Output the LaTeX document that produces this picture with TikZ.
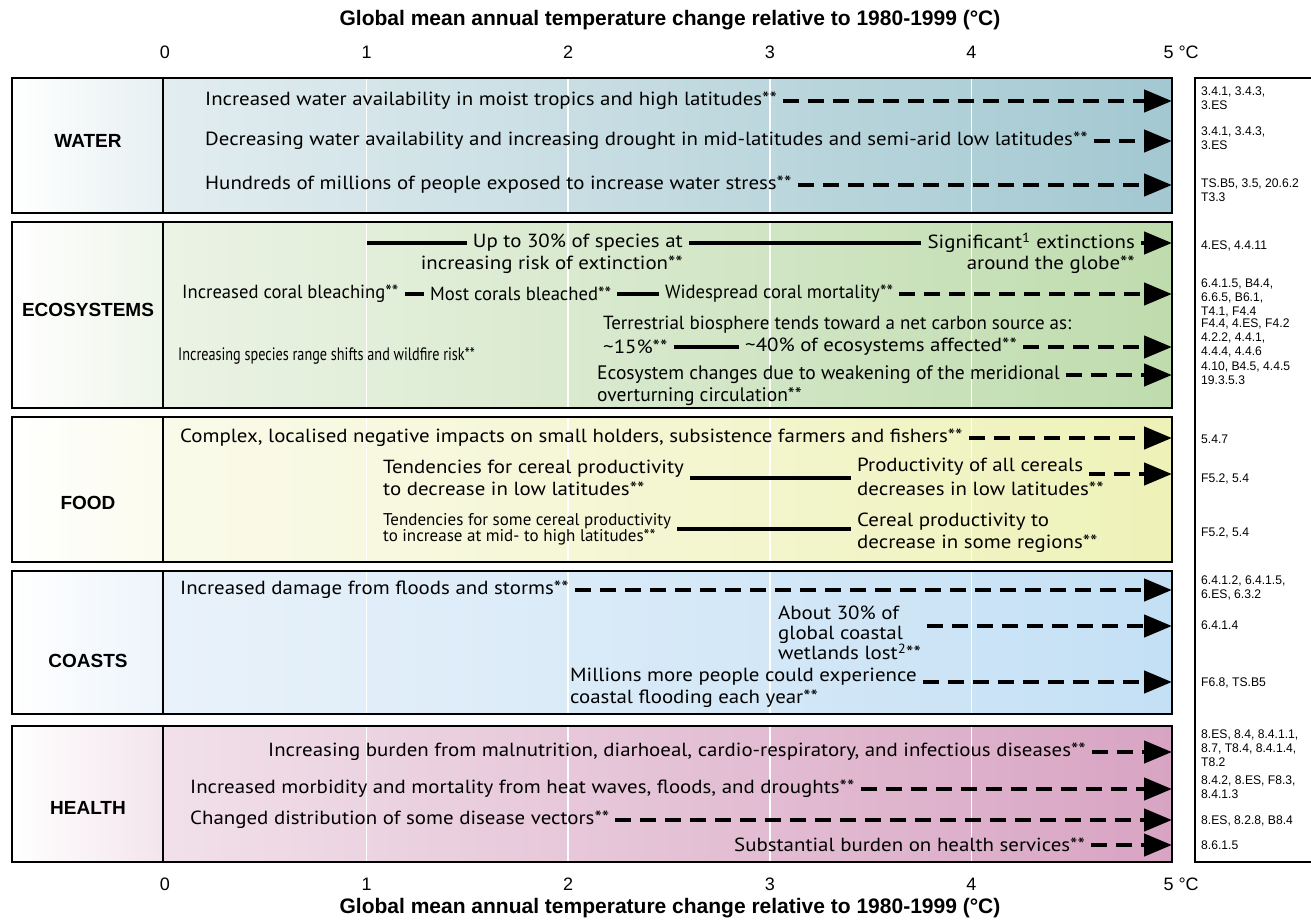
\documentclass[tikz,border=0pt]{standalone}
\usepackage{fontspec}
\setmainfont{Liberation Sans}
\newfontfamily\rowfont[FakeStretch=1.1]{PT Sans}
\newfontfamily\plainfont{PT Sans}
\newfontfamily\slimfont[FakeStretch=0.98]{PT Sans}
\newfontfamily\narrowfont[FakeStretch=0.79]{PT Sans}
\newfontfamily\reffont[FakeStretch=0.97]{Liberation Sans}
\usetikzlibrary{arrows.meta}
\definecolor{waterL}{HTML}{E2EDF0}
\definecolor{waterR}{HTML}{A3C8D1}
\definecolor{ecoL}{HTML}{EBF3E5}
\definecolor{ecoR}{HTML}{BFDCAE}
\definecolor{foodL}{HTML}{FAFAEA}
\definecolor{foodR}{HTML}{EEF2B8}
\definecolor{coastL}{HTML}{E9F2FA}
\definecolor{coastR}{HTML}{C4E0F5}
\definecolor{healthL}{HTML}{F1E0E9}
\definecolor{healthR}{HTML}{D8A4C3}
\begin{document}
\begin{tikzpicture}[x=1pt,y=-1pt,
  item/.style={font=\rowfont\fontsize{19}{22}\selectfont, inner xsep=6pt, inner ysep=0pt, anchor=west, align=left},
  slim/.style={item, font=\slimfont\fontsize{19}{22}\selectfont},
  big/.style={item, font=\plainfont\fontsize{19.5}{22}\selectfont},
  trend/.style={line width=4.5pt, dash pattern=on 16pt off 9pt, -{Triangle[length=28pt,width=22pt]}},
  link/.style={line width=4pt},
  cat/.style={font=\bfseries\fontsize{19}{22}\selectfont},
  refs/.style={font=\reffont\fontsize{12.5}{14}\selectfont, anchor=north west, align=left, inner sep=0pt},
  axis/.style={font=\fontsize{18}{20}\selectfont},
  heading/.style={font=\bfseries\fontsize{21}{24}\selectfont}]
\useasboundingbox (0,0) rectangle (1311,923);
\fill[white] (0,0) rectangle (1311,923);
% Panels
\foreach \ya/\yb/\pname/\ly/\cl/\cr in {78/213/WATER/141/waterL/waterR,
    222/408/ECOSYSTEMS/310/ecoL/ecoR, 417/562/FOOD/503/foodL/foodR,
    571/714/COASTS/661/coastL/coastR, 726/862/HEALTH/808/healthL/healthR} {
  \shade[left color=white, right color=\cl!85] (12,\ya) rectangle (163,\yb);
  \shade[left color=\cl, right color=\cr] (163,\ya) rectangle (1172,\yb);
  \foreach \t in {1,...,4}
    \draw[white, line width=1.5pt] ({165+201.6*\t},\ya) -- ({165+201.6*\t},\yb);
  \draw[line width=2.5pt] (12,\ya) rectangle (1172,\yb);
  \draw[line width=2pt] (163,\ya) -- (163,\yb);
  \node[cat] (cat\pname) at (88,\ly) {\pname};
}
% Reference column
\draw[line width=2.5pt] (1330,78) -- (1195,78) -- (1195,862) -- (1330,862);
% Axes
\node[heading] (toptitle) at (670,20) {Global mean annual temperature change relative to 1980-1999 (°C)};
\node[heading] (bottitle) at (670,908) {Global mean annual temperature change relative to 1980-1999 (°C)};
\foreach \t in {0,...,4} {
  \node[axis] (top\t) at ({165+201.6*\t},52) {\t};
  \node[axis] (bot\t) at ({165+201.6*\t},884) {\t};
}
\node[axis, anchor=west] (top5) at (1160,52) {5 °C};
\node[axis, anchor=west] (bot5) at (1160,884) {5 °C};
% Water
\node[item] (w1) at (199,101) {Increased water availability in moist tropics and high latitudes**};
\node[item] (w2) at (199,141) {Decreasing water availability and increasing drought in mid-latitudes and semi-arid low latitudes**};
\node[item] (w3) at (199,185) {Hundreds of millions of people exposed to increase water stress**};
\coordinate (w1e) at (1172,101);
\coordinate (w2e) at (1172,141);
\coordinate (w3e) at (1172,185);
\draw[trend] (w1) -- (w1e);
\draw[trend] (w2) -- (w2e);
\draw[trend] (w3) -- (w3e);
% Ecosystems
\coordinate (e1s) at (367,243);
\node[item, anchor=east] (e1a) at (689,243) {Up to 30\% of species at};
\node[item, anchor=east] (e1b) at (689,265) {increasing risk of extinction**};
\node[item, anchor=east] (e1c) at (1141,243) {Significant\textsuperscript{1} extinctions};
\node[item, anchor=east] (e1d) at (1141,265) {around the globe**};
\coordinate (e1e) at (1172,243);
\draw[link] (e1s) -- (e1a);
\draw[link] (e1a) -- (e1c);
\draw[trend] (e1c) -- (e1e);
\node[slim] (e2a) at (176,294) {Increased coral bleaching**};
\node[slim] (e2b) at (424,294) {Most corals bleached**};
\node[slim] (e2c) at (659,294) {Widespread coral mortality**};
\coordinate (e2e) at (1172,294);
\draw[link] (e2a) -- (e2b);
\draw[link] (e2b) -- (e2c);
\draw[trend] (e2c) -- (e2e);
\node[item, font=\plainfont\fontsize{19}{22}\selectfont] (e3a) at (597,325) {Terrestrial biosphere tends toward a net carbon source as:};
\node[item] (e3b) at (597,347) {\textasciitilde 15\%**};
\node[item] (e3c) at (739,347) {\textasciitilde 40\% of ecosystems affected**};
\coordinate (e3e) at (1172,347);
\draw[link] (e3b) -- (e3c);
\draw[trend] (e3c) -- (e3e);
\node[item, font=\narrowfont\fontsize{18}{22}\selectfont] (e3d) at (172,356) {Increasing species range shifts and wildfire risk**};
\node[big] (e4a) at (591,375) {Ecosystem changes due to weakening of the meridional};
\node[big] (e4b) at (591,397) {overturning circulation**};
\coordinate (e4e) at (1172,375);
\draw[trend] (e4a) -- (e4e);
% Food
\node[item] (f1) at (174,438) {Complex, localised negative impacts on small holders, subsistence farmers and fishers**};
\coordinate (f1e) at (1172,438);
\draw[trend] (f1) -- (f1e);
\node[item] (f2) at (377,478) {Tendencies for cereal productivity\\to decrease in low latitudes**};
\node[item] (f3a) at (851,467) {Productivity of all cereals};
\node[item] (f3b) at (851,489) {decreases in low latitudes**};
\coordinate (f3e) at (1172,474);
\draw[link] (f2) -- (f3a.west |- f2);
\draw[trend] (f3a.east |- f3e) -- (f3e);
\node[item, font=\plainfont\fontsize{17}{16}\selectfont] (f4) at (377,529) {Tendencies for some cereal productivity\\to increase at mid- to high latitudes**};
\node[item] (f5) at (851,533) {Cereal productivity to\\decrease in some regions**};
\draw[link] (f4) -- (f5.west |- f4);
% Coasts
\node[item] (c1) at (174,590) {Increased damage from floods and storms**};
\coordinate (c1e) at (1172,590);
\draw[trend] (c1) -- (c1e);
\node[item, font=\rowfont\fontsize{19}{20}\selectfont] (c2) at (772,633) {About 30\% of\\global coastal\\wetlands lost\textsuperscript{2}**};
\coordinate (c2e) at (1172,626);
\draw[trend] (c2.east |- c2e) -- (c2e);
\node[item] (c3) at (564,688) {Millions more people could experience\\coastal flooding each year**};
\coordinate (c3e) at (1172,682);
\draw[trend] (c3.east |- c3e) -- (c3e);
% Health
\node[item] (h1) at (262,752) {Increasing burden from malnutrition, diarhoeal, cardio-respiratory, and infectious diseases**};
\node[item] (h2) at (184,789) {Increased morbidity and mortality from heat waves, floods, and droughts**};
\node[item] (h3) at (184,820) {Changed distribution of some disease vectors**};
\node[item] (h4) at (728,845) {Substantial burden on health services**};
\coordinate (h1e) at (1172,752);
\coordinate (h2e) at (1172,789);
\coordinate (h3e) at (1172,820);
\coordinate (h4e) at (1172,845);
\draw[trend] (h1) -- (h1e);
\draw[trend] (h2) -- (h2e);
\draw[trend] (h3) -- (h3e);
\draw[trend] (h4) -- (h4e);
% References
\node[refs] (rw1) at (1201,87) {3.4.1, 3.4.3,\\3.ES};
\node[refs] (rw2) at (1201,127) {3.4.1, 3.4.3,\\3.ES};
\node[refs] (rw3) at (1201,179) {TS.B5, 3.5, 20.6.2\\T3.3};
\node[refs] (re1) at (1201,241) {4.ES, 4.4.11};
\node[refs] (re2) at (1201,279) {6.4.1.5, B4.4,\\6.6.5, B6.1,\\T4.1, F4.4};
\node[refs] (re3) at (1201,319) {F4.4, 4.ES, F4.2\\4.2.2, 4.4.1,\\4.4.4, 4.4.6};
\node[refs] (re4) at (1201,362) {4.10, B4.5, 4.4.5\\19.3.5.3};
\node[refs] (rf1) at (1201,435) {5.4.7};
\node[refs] (rf2) at (1201,474) {F5.2, 5.4};
\node[refs] (rf3) at (1201,528) {F5.2, 5.4};
\node[refs] (rc1) at (1201,576) {6.4.1.2, 6.4.1.5,\\6.ES, 6.3.2};
\node[refs] (rc2) at (1201,621) {6.4.1.4};
\node[refs] (rc3) at (1201,678) {F6.8, TS.B5};
\node[refs] (rh1) at (1201,730) {8.ES, 8.4, 8.4.1.1,\\8.7, T8.4, 8.4.1.4,\\T8.2};
\node[refs] (rh2) at (1201,776) {8.4.2, 8.ES, F8.3,\\8.4.1.3};
\node[refs] (rh3) at (1201,816) {8.ES, 8.2.8, B8.4};
\node[refs] (rh4) at (1201,841) {8.6.1.5};
\end{tikzpicture}
\end{document}
